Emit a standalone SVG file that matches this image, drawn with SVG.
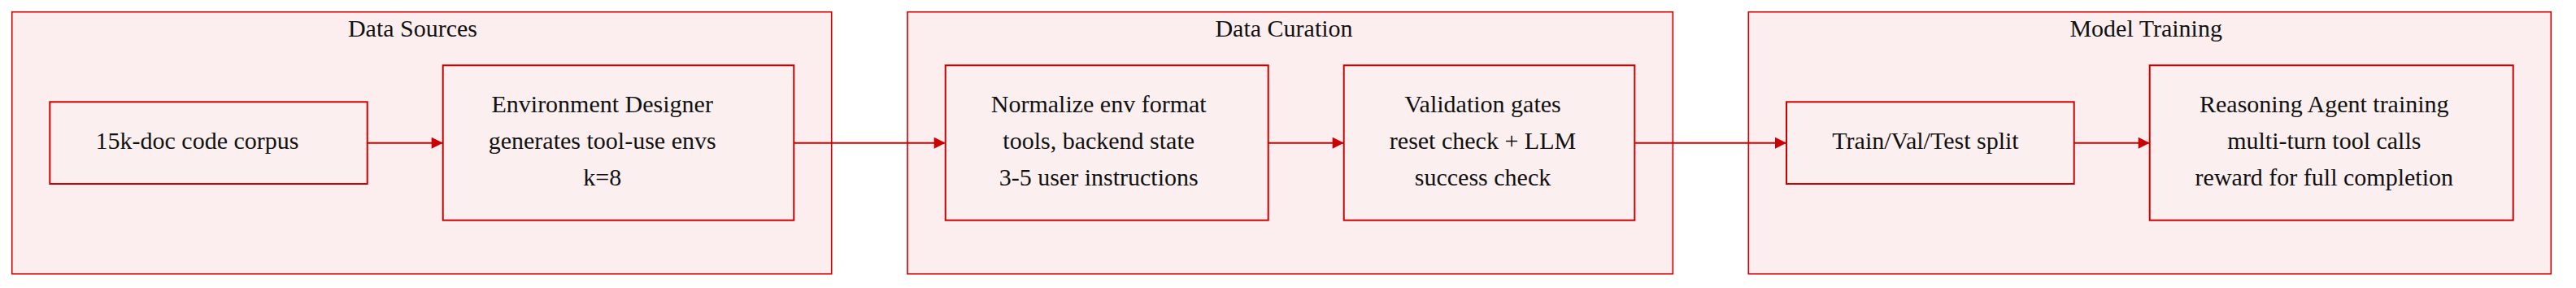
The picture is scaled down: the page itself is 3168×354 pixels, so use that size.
<svg xmlns="http://www.w3.org/2000/svg" width="3168" height="354" viewBox="0 0 3168 354">
<style>
.cluster{fill:#fceeee;stroke:#cc0000;stroke-width:1.6}
.node{fill:#fcefef;stroke:#cc0000;stroke-width:2}
.edge{fill:none;stroke:#cc0000;stroke-width:2}
text{font-family:"Liberation Serif","Times New Roman",serif;font-size:30px;fill:#111111;text-anchor:middle}
</style>
<defs>
<marker id="arrow" viewBox="0 0 10 10" refX="10" refY="5" markerWidth="15" markerHeight="14" markerUnits="userSpaceOnUse" orient="auto">
<path d="M0,0 L10,5 L0,10 z" fill="#cc0000"/>
</marker>
</defs>
<g id="cluster-data-sources">
<rect class="cluster" x="14.7" y="14.7" width="1008" height="322"/>
<text x="507.5" y="44.5">Data Sources</text>
</g>
<g id="cluster-data-curation">
<rect class="cluster" x="1116" y="14.7" width="941.3" height="322"/>
<text x="1579" y="44.5">Data Curation</text>
</g>
<g id="cluster-model-training">
<rect class="cluster" x="2150.3" y="14.7" width="987" height="322"/>
<text x="2639.2" y="44.5">Model Training</text>
</g>
<g id="connectors">
<line class="edge" x1="451.7" y1="175.7" x2="544.7" y2="175.7" marker-end="url(#arrow)"/>
<line class="edge" x1="976.3" y1="175.7" x2="1162.7" y2="175.7" marker-end="url(#arrow)"/>
<line class="edge" x1="1559.7" y1="175.7" x2="1652.7" y2="175.7" marker-end="url(#arrow)"/>
<line class="edge" x1="2010.3" y1="175.7" x2="2197" y2="175.7" marker-end="url(#arrow)"/>
<line class="edge" x1="2550.7" y1="175.7" x2="2643.7" y2="175.7" marker-end="url(#arrow)"/>
</g>
<g id="node-corpus">
<rect class="node" x="61.3" y="125.3" width="390.4" height="100.7"/>
<text x="242.5" y="182.5">15k-doc code corpus</text>
</g>
<g id="node-env-designer">
<rect class="node" x="544.7" y="80.3" width="431.6" height="190.4"/>
<text x="740.7" y="137.7">Environment Designer</text>
<text x="740.7" y="182.7">generates tool-use envs</text>
<text x="740.7" y="227.7">k=8</text>
</g>
<g id="node-normalize">
<rect class="node" x="1162.7" y="80.3" width="397" height="190.4"/>
<text x="1351.2" y="137.7">Normalize env format</text>
<text x="1351.2" y="182.7">tools, backend state</text>
<text x="1351.2" y="227.7">3-5 user instructions</text>
</g>
<g id="node-validation">
<rect class="node" x="1652.7" y="80.3" width="357.6" height="190.4"/>
<text x="1823.5" y="137.7">Validation gates</text>
<text x="1823.5" y="182.7">reset check + LLM</text>
<text x="1823.5" y="227.7">success check</text>
</g>
<g id="node-split">
<rect class="node" x="2197" y="125.3" width="353.7" height="100.7"/>
<text x="2368" y="182.5">Train/Val/Test split</text>
</g>
<g id="node-agent-training">
<rect class="node" x="2643.7" y="80.3" width="447" height="190.4"/>
<text x="2858.3" y="137.7">Reasoning Agent training</text>
<text x="2858.3" y="182.7">multi-turn tool calls</text>
<text x="2858.3" y="227.7">reward for full completion</text>
</g>
</svg>
